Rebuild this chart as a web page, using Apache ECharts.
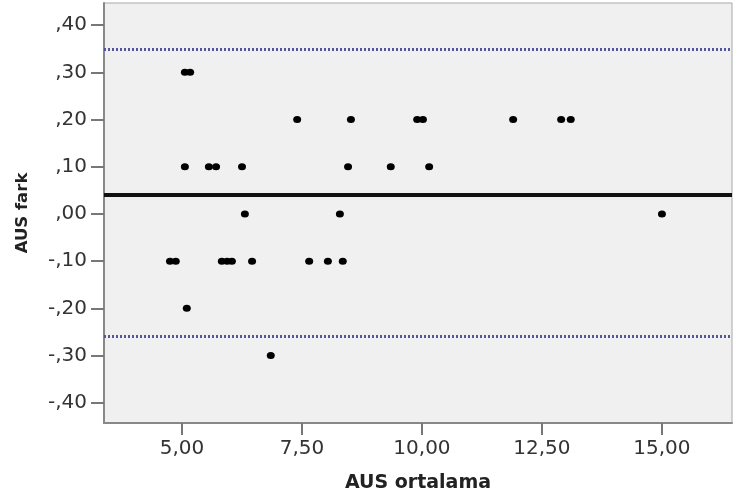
<!DOCTYPE html>
<html>
<head>
<meta charset="utf-8">
<script src="https://cdn.jsdelivr.net/npm/echarts@6/dist/echarts.min.js"></script>
<style>
html,body{margin:0;padding:0;background:#fff;}
#c{width:733px;height:500px;}
</style>
</head>
<body>
<div id="c"></div>
<script>
// Data (x = AUS ortalama, y = AUS fark)
var ptsX = [5.06, 5.17,
            7.40, 8.52, 9.90, 10.02, 11.90, 12.90, 13.10,
            5.06, 5.56, 5.71, 6.25, 8.46, 9.35, 10.15,
            6.31, 8.29, 15.00,
            4.75, 4.87, 5.83, 5.94, 6.04, 6.46, 7.65, 8.04, 8.35,
            5.10,
            6.85];
var ptsY = [0.30, 0.30,
            0.20, 0.20, 0.20, 0.20, 0.20, 0.20, 0.20,
            0.10, 0.10, 0.10, 0.10, 0.10, 0.10, 0.10,
            0.00, 0.00, 0.00,
            -0.10, -0.10, -0.10, -0.10, -0.10, -0.10, -0.10, -0.10, -0.10,
            -0.20,
            -0.30];
var meanDiff = 0.044;
var loaUpper = 0.349;
var loaLower = -0.26;
var xTicks = [5, 7.5, 10, 12.5, 15];
var yTicks = [-0.4, -0.3, -0.2, -0.1, 0, 0.1, 0.2, 0.3, 0.4];
var xRange = [3.375, 16.46];
var yRange = [-0.443, 0.447];
var xTitle = 'AUS ortalama';
var yTitle = 'AUS fark';

var data = ptsX.map(function (x, i) { return [x, ptsY[i]]; });

function fmtY(v) {
  var s = Math.abs(v).toFixed(2).replace('0.', ',');
  return (v < -1e-9 ? '-' : '') + s;
}
function fmtX(v) { return v.toFixed(2).replace('.', ','); }

var font = 'DejaVu Sans';
var chart = echarts.init(document.getElementById('c'), null, {renderer: 'canvas'});
chart.setOption({
  animation: false,
  backgroundColor: '#ffffff',
  grid: {
    left: 104, top: 3, right: 1, bottom: 77,
    show: true, backgroundColor: '#f0f0f0', borderColor: '#a8a8a8', borderWidth: 1
  },
  xAxis: {
    type: 'value', min: xRange[0], max: xRange[1],
    name: xTitle, nameLocation: 'middle', nameGap: 51,
    nameTextStyle: {fontFamily: font, fontWeight: 'bold', fontSize: 19, color: '#222'},
    axisLine: {show: true, onZero: false, lineStyle: {color: '#888', width: 2}},
    axisTick: {show: true, length: 12, lineStyle: {color: '#777', width: 2}, customValues: xTicks},
    axisLabel: {fontFamily: font, fontSize: 20, color: '#333', margin: 16, formatter: fmtX, customValues: xTicks},
    splitLine: {show: false}
  },
  yAxis: {
    type: 'value', min: yRange[0], max: yRange[1],
    name: yTitle, nameLocation: 'middle', nameGap: 73, nameRotate: 90,
    nameTextStyle: {fontFamily: font, fontWeight: 'bold', fontSize: 16.5, color: '#222'},
    axisLine: {show: true, onZero: false, lineStyle: {color: '#888', width: 2}},
    axisTick: {show: true, length: 13, lineStyle: {color: '#777', width: 2}, customValues: yTicks},
    axisLabel: {fontFamily: font, fontSize: 20, color: '#333', margin: 17, formatter: fmtY, customValues: yTicks},
    splitLine: {show: false}
  },
  series: [{
    type: 'scatter',
    data: data,
    symbol: 'circle',
    symbolSize: [8, 7],
    itemStyle: {color: '#000', opacity: 1},
    z: 5,
    markLine: {
      silent: true,
      symbol: 'none',
      label: {show: false},
      animation: false,
      data: [
        {yAxis: meanDiff, lineStyle: {color: '#111', width: 4, type: 'solid'}},
        {yAxis: loaUpper, lineStyle: {color: '#55559a', width: 3, type: [2, 2]}},
        {yAxis: loaLower, lineStyle: {color: '#55559a', width: 3, type: [2, 2]}}
      ]
    }
  }]
});
</script>
</body>
</html>
